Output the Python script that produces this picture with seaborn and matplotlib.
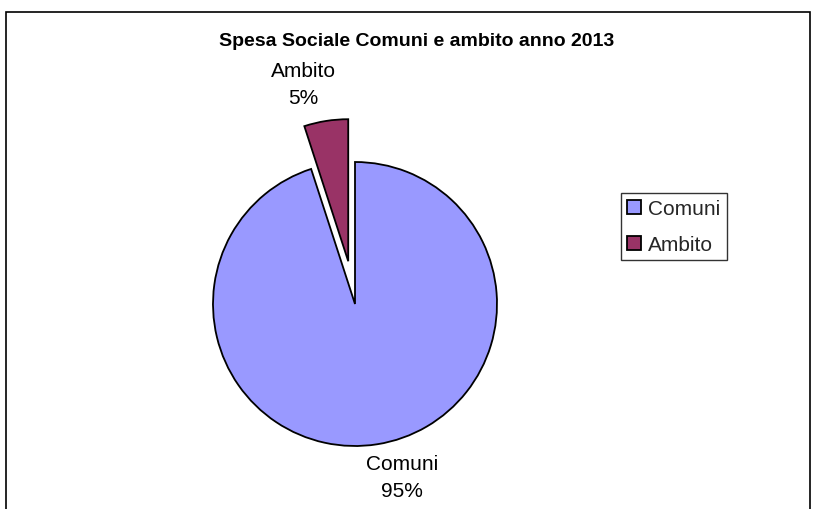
import matplotlib
matplotlib.use("Agg")
import matplotlib.pyplot as plt
from matplotlib.patches import Rectangle, Patch
import seaborn as sns

categories = ["Comuni", "Ambito"]
values = [95, 5]
pct_labels = ["95%", "5%"]
title = "Spesa Sociale Comuni e ambito anno 2013"

sns.set_theme(style="white")
plt.rcParams["font.family"] = ["Liberation Sans", "DejaVu Sans"]
colors = sns.color_palette(["#9999FF", "#993366"])

W, H = 813, 510
fig = plt.figure(figsize=(W / 100, H / 100), dpi=100)
fig.patch.set_facecolor("white")

# outer chart frame
fig.patches.append(Rectangle((6 / W, -0.05), (810 - 6) / W, 1.05 - 13 / H,
                             transform=fig.transFigure, fill=False,
                             edgecolor="black", linewidth=1.2))

# pie axes: center (355,305) px, radius 142 px
cx, cy, r = 355, 305, 142
ax = fig.add_axes([(cx - r) / W, (H - cy - r) / H, 2 * r / W, 2 * r / H])
wedges, texts = ax.pie(values, colors=colors, startangle=90, counterclock=False,
                       explode=[0, 0.305],
                       wedgeprops=dict(edgecolor="black", linewidth=1.3))
for w in wedges:
    w.set_clip_on(False)
ax.set_xlim(-1, 1)
ax.set_ylim(-1, 1)
ax.set_aspect("equal")
ax.axis("off")

label_pos = [(0.33, -1.22), (-0.366, 1.55)]
for cat, pct, (lx, ly) in zip(categories, pct_labels, label_pos):
    ax.text(lx, ly, f"{cat}\n{pct}", ha="center", va="center",
            fontsize=15, linespacing=1.55, color="black", clip_on=False)

fig.text(417 / W, 1 - 42 / H, title, ha="center", va="center",
         fontsize=14, fontweight="bold", color="black")

handles = [Patch(facecolor=c, edgecolor="black", linewidth=1.3) for c in colors]
leg = fig.legend(handles, categories, loc="upper left",
                 bbox_to_anchor=(621 / W, 1 - 194 / H), borderaxespad=0,
                 fontsize=15, frameon=True, fancybox=False,
                 handlelength=0.65, handleheight=0.65, handletextpad=0.35,
                 labelspacing=0.8, borderpad=0.3)
leg.get_frame().set_edgecolor("black")
leg.get_frame().set_linewidth(1.0)

fig.savefig("out.png", dpi=100)
